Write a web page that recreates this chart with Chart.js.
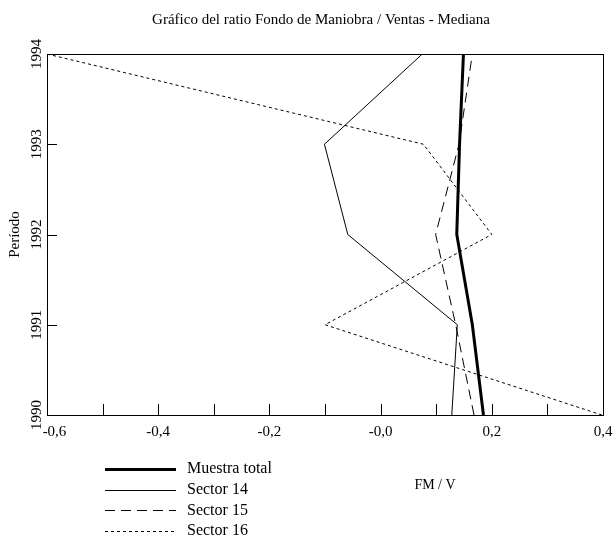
<!DOCTYPE html>
<html>
<head>
<meta charset="utf-8">
<script src="https://cdn.jsdelivr.net/npm/chart.js@4"></script>
<style>
  html, body { margin: 0; padding: 0; background: #fff; }
  #wrap { width: 614px; height: 540px; }
</style>
</head>
<body>
<div id="wrap"><canvas id="ratio-chart" width="614" height="540"></canvas></div>
<script>
// data
const years = [1990, 1991, 1992, 1993, 1994];
const muestraTotal = [0.185, 0.165, 0.137, 0.142, 0.149];
const sector14 = [0.128, 0.138, -0.059, -0.101, 0.075];
const sector15 = [0.168, 0.135, 0.099, 0.141, 0.165];
const sector16 = [0.398, -0.1, 0.2, 0.077, -0.6];

const seriesNames = ['Muestra total', 'Sector 14', 'Sector 15', 'Sector 16'];
// first label sits a little to the right of the corner, as in the original
const xTickLabels = ['\u2003-0,6', '-0,4', '-0,2', '-0,0', '0,2', '0,4'];
const yTickLabels = ['1990', '1991', '1992', '1993', '1994'];
const xMinorTicks = [-0.5, -0.4, -0.3, -0.2, -0.1, 0, 0.1, 0.2, 0.3];
const yMinorTicks = [1991, 1992, 1993];

const chartTitle = 'Gráfico del ratio Fondo de Maniobra / Ventas - Mediana';
const xTitle = 'FM / V';
const yTitle = 'Período';

const serif = "'Liberation Serif', 'DejaVu Serif', serif";

function toPoints(values) {
	return values.map(function (v, i) { return { x: v, y: years[i] }; });
}

const lineStyles = [
	{ width: 3, dash: [] },
	{ width: 1, dash: [] },
	{ width: 1, dash: [10, 6] },
	{ width: 1, dash: [3, 3] }
];

const allSeries = [muestraTotal, sector14, sector15, sector16];

const datasets = allSeries.map(function (values, i) {
	return {
		label: seriesNames[i],
		data: toPoints(values),
		borderColor: '#000',
		borderWidth: lineStyles[i].width,
		borderDash: lineStyles[i].dash,
		pointRadius: 0,
		tension: 0,
		fill: false
	};
});

// frame, inward ticks, title, legend, x title
const decorations = {
	id: 'decorations',
	afterDraw(chart) {
		const ctx = chart.ctx;
		const area = chart.chartArea;
		const xs = chart.scales.x;
		const ys = chart.scales.y;
		ctx.save();
		ctx.strokeStyle = '#000';
		ctx.lineWidth = 1;
		ctx.setLineDash([]);
		ctx.strokeRect(Math.round(area.left) + 0.5, Math.round(area.top) + 0.5,
			Math.round(area.right - area.left), Math.round(area.bottom - area.top));

		ctx.beginPath();
		xMinorTicks.forEach(function (v) {
			const px = Math.round(xs.getPixelForValue(v)) + 0.5;
			ctx.moveTo(px, area.bottom);
			ctx.lineTo(px, area.bottom - 11);
		});
		yMinorTicks.forEach(function (v) {
			const py = Math.round(ys.getPixelForValue(v)) + 0.5;
			ctx.moveTo(area.left, py);
			ctx.lineTo(area.left + 10, py);
		});
		ctx.stroke();

		ctx.fillStyle = '#000';
		ctx.textBaseline = 'middle';
		ctx.textAlign = 'center';
		ctx.font = '15px ' + serif;
		ctx.fillText(chartTitle, 321, 20);
		ctx.font = '14px ' + serif;
		ctx.fillText(xTitle, 435, 485);

		// legend
		ctx.textAlign = 'left';
		ctx.font = '16px ' + serif;
		seriesNames.forEach(function (name, i) {
			const y = 469 + i * 20.7;
			ctx.lineWidth = lineStyles[i].width;
			ctx.setLineDash(lineStyles[i].dash);
			ctx.beginPath();
			ctx.moveTo(105, Math.round(y) + 0.5);
			ctx.lineTo(176, Math.round(y) + 0.5);
			ctx.stroke();
			ctx.fillText(name, 187, y);
		});
		ctx.restore();
	}
};

new Chart(document.getElementById('ratio-chart'), {
	type: 'line',
	data: { datasets: datasets },
	options: {
		responsive: false,
		animation: false,
		layout: { padding: { top: 54, right: 0, left: 0, bottom: 0 } },
		plugins: {
			legend: { display: false },
			title: { display: false },
			tooltip: { enabled: false }
		},
		scales: {
			x: {
				type: 'linear',
				min: -0.6,
				max: 0.4,
				grid: { display: false, drawTicks: false },
				border: { display: false },
				ticks: {
					stepSize: 0.2,
					padding: 8,
					color: '#000',
					font: { family: serif, size: 15 },
					maxRotation: 0,
					callback: function (v, i) { return xTickLabels[i]; }
				},
				afterFit: function (scale) {
					scale.height = 125;
					scale.paddingLeft = 0;
					scale.paddingRight = 11;
				}
			},
			y: {
				type: 'linear',
				min: 1990,
				max: 1994,
				grid: { display: false, drawTicks: false },
				border: { display: false },
				title: {
					display: true,
					text: yTitle,
					color: '#000',
					font: { family: serif, size: 15 },
					padding: { top: 6, bottom: 0 }
				},
				ticks: {
					stepSize: 1,
					minRotation: 90,
					maxRotation: 90,
					crossAlign: 'center',
					padding: -5,
					color: '#000',
					font: { family: serif, size: 15 },
					callback: function (v, i) { return yTickLabels[i]; }
				},
				afterFit: function (scale) { scale.width = 47; }
			}
		}
	},
	plugins: [decorations]
});
</script>
</body>
</html>
